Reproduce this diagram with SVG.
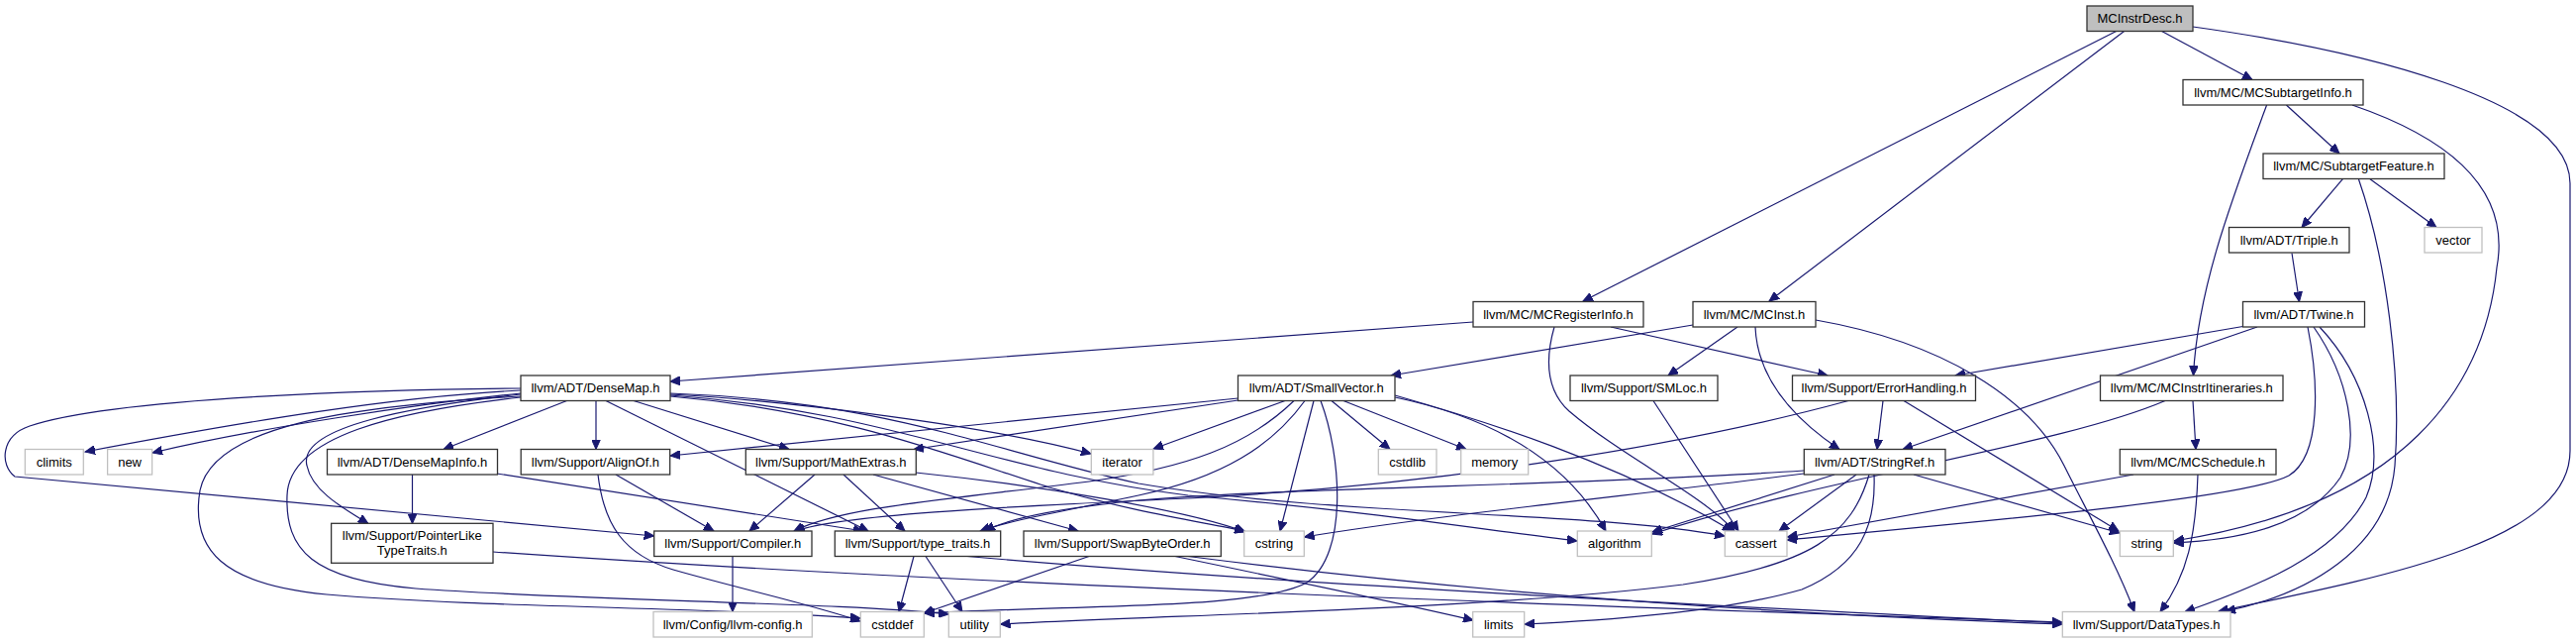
<svg xmlns="http://www.w3.org/2000/svg" width="2602" height="649" viewBox="0 0 2602 649">
<style>
.n rect{fill:#fff;stroke:#333;stroke-width:1.3}
.g rect{fill:#fff;stroke:#c0c0c0;stroke-width:1.3}
.r rect{fill:#bfbfbf;stroke:#333;stroke-width:1.3}
text{font-family:"Liberation Sans",Arial,sans-serif;font-size:13px;text-anchor:middle;fill:#000}
#edges path{fill:none;stroke:#191970;stroke-width:1.2;marker-end:url(#a)}
</style>
<defs>
<marker id="a" markerWidth="11" markerHeight="9" refX="10" refY="4.5" orient="auto" markerUnits="userSpaceOnUse">
<path d="M0,0 L10,4.5 L0,9 z" fill="#191970" stroke="#191970" stroke-width="1"/>
</marker>
</defs>
<rect width="2602" height="649" fill="#fff"/>
<g id="edges">
<path d="M2137.6,31.5 L1599,304"/>
<path d="M2145.6,31.5 L1787,304"/>
<path d="M2183.6,31.5 L2275,80.5"/>
<path d="M2215,27 C2380,50 2596,100 2596,185 L2596,455 C2596,545 2420,580 2241,617"/>
<path d="M2309.4,106 L2363,155"/>
<path d="M2289.6,106 C2255,200 2220,290 2215.5,379"/>
<path d="M2376,106 C2490,145 2535,200 2522,270 C2510,390 2430,510 2196,546"/>
<path d="M2366.4,180.7 L2325,229.5"/>
<path d="M2394,180.7 L2461,229.5"/>
<path d="M2382.5,181 C2410,260 2426,380 2419,470 C2412,555 2330,600 2248,617"/>
<path d="M2315,255.5 L2322.5,304.5"/>
<path d="M2265.5,329.5 L1975,379"/>
<path d="M2280,330 L1922,453.5"/>
<path d="M2331,330 C2342,385 2345,460 2312,480 C2270,502 2050,522 1805,545"/>
<path d="M2337,330 C2372,380 2385,445 2364,482 C2330,532 2260,545 2195.5,548"/>
<path d="M2343,330 C2390,380 2410,455 2390,502 C2360,560 2280,592 2207,617.5"/>
<path d="M1488,325 L677,385"/>
<path d="M1627,330 L1846,379"/>
<path d="M1570,330 C1560,365 1563,395 1585,415 C1640,462 1718,498 1752,536"/>
<path d="M1710,328 L1405,379"/>
<path d="M1755,330 L1685,379"/>
<path d="M1773,330 C1775,380 1808,420 1858,453.5"/>
<path d="M1834,323 C1960,345 2050,400 2085,470 C2110,520 2138,570 2156,617.5"/>
<path d="M572.5,404.5 L448,453.5"/>
<path d="M602,404.5 L602,453.5"/>
<path d="M526,394 C400,400 250,425 86,456"/>
<path d="M526,397 C420,408 260,432 154,457"/>
<path d="M526,392 C400,393 120,400 30,430 C0,440 0,470 15,481 L660.7,541"/>
<path d="M526,398 C420,410 300,430 310,470 C315,495 345,512 372,528.5"/>
<path d="M526,400 C350,410 215,430 202,495 C192,555 225,590 330,600 C500,614 700,612 869,624"/>
<path d="M526,401 C400,415 292,440 290,500 C288,555 315,585 420,594 C600,607 850,608 958,620"/>
<path d="M612,404.5 L877,536"/>
<path d="M640,404.5 L797,453.5"/>
<path d="M677,398 C800,405 1000,430 1102,458"/>
<path d="M677,400 C850,415 960,460 1060,492 C1150,518 1210,526 1257,536"/>
<path d="M677,399 C900,415 1000,475 1200,500 C1400,518 1500,535 1593,546"/>
<path d="M677,397 C900,405 1000,455 1150,488 C1350,522 1600,515 1742,541"/>
<path d="M416.5,479 L416.5,528.5"/>
<path d="M502,478 L872,536"/>
<path d="M622,479 L721,536"/>
<path d="M604,479 C610,530 630,560 680,575 C750,595 820,610 869,627"/>
<path d="M498,557 C900,585 1400,605 2083,628"/>
<path d="M823,479 L757,536"/>
<path d="M852,479 L914,536"/>
<path d="M882,479 L1089,536"/>
<path d="M925,477 C1050,490 1200,515 1258,537"/>
<path d="M923,561.5 L908,617.5"/>
<path d="M935,561.5 L972,617.5"/>
<path d="M977,561.5 C1300,590 1800,615 2083,629"/>
<path d="M1100,561.5 L933,619"/>
<path d="M1187,561.5 C1300,585 1420,610 1488,626"/>
<path d="M1200,561.5 C1500,600 1800,620 2083,630"/>
<path d="M740,561.5 L740,617.5"/>
<path d="M1250.5,402 L677,460"/>
<path d="M1250.5,404 L923,453.5"/>
<path d="M1298,404.5 L1165,453"/>
<path d="M1307,404.5 C1260,450 1200,472 1100,486 C950,505 850,512 802,536"/>
<path d="M1318,404.5 C1285,450 1235,482 1150,500 C1080,515 1020,525 990,536"/>
<path d="M1327,404.5 L1293,536"/>
<path d="M1334,404.5 C1355,460 1362,560 1320,588 C1270,615 1100,610 934,619"/>
<path d="M1345,404.5 L1404,453.5"/>
<path d="M1357,404.5 L1481,453.5"/>
<path d="M1409,401 C1500,420 1580,460 1622,536"/>
<path d="M1409,399 C1500,425 1630,465 1750,536"/>
<path d="M1670,404.5 L1756,536"/>
<path d="M1867,404.5 C1700,450 1450,490 1200,503 C1000,512 850,520 803,536"/>
<path d="M1902,404.5 L1896,453.5"/>
<path d="M1923,404.5 L2140,536"/>
<path d="M1822,475 C1600,490 1300,492 1150,505 C1080,512 1020,522 995,536"/>
<path d="M1822,478 C1650,500 1450,520 1317.5,542"/>
<path d="M1853,479 L1669,537"/>
<path d="M1875,479 L1797,536"/>
<path d="M1888,479 C1870,540 1830,570 1700,590 C1500,615 1200,620 1010.5,630"/>
<path d="M1893,479 C1895,530 1880,570 1820,595 C1750,615 1650,625 1540,630"/>
<path d="M1933,479 L2141,538"/>
<path d="M2215,404.5 L2218,453.5"/>
<path d="M2187,404.5 C2080,450 1850,480 1669,539"/>
<path d="M2220,479 C2218,540 2210,580 2182,617.5"/>
<path d="M2155,479 L1805.5,542"/>
</g>
<g id="MCInstrDesc" class="r"><rect x="2108" y="6" width="107" height="25.5"/><text x="2161.5" y="23.25">MCInstrDesc.h</text></g>
<g id="MCSubtargetInfo" class="n"><rect x="2205" y="80.5" width="182" height="25.5"/><text x="2296" y="97.75">llvm/MC/MCSubtargetInfo.h</text></g>
<g id="SubtargetFeature" class="n"><rect x="2286" y="155" width="183" height="25.5"/><text x="2377.5" y="172.25">llvm/MC/SubtargetFeature.h</text></g>
<g id="Triple" class="n"><rect x="2251.5" y="229.5" width="121.5" height="25.5"/><text x="2312.25" y="246.75">llvm/ADT/Triple.h</text></g>
<g id="vector" class="g"><rect x="2449" y="229.5" width="58" height="25.5"/><text x="2478" y="246.75">vector</text></g>
<g id="Twine" class="n"><rect x="2265.5" y="304.5" width="123" height="25.5"/><text x="2327" y="321.75">llvm/ADT/Twine.h</text></g>
<g id="MCRegisterInfo" class="n"><rect x="1488" y="304.5" width="172" height="25.5"/><text x="1574" y="321.75">llvm/MC/MCRegisterInfo.h</text></g>
<g id="MCInst" class="n"><rect x="1710" y="304.5" width="124" height="25.5"/><text x="1772" y="321.75">llvm/MC/MCInst.h</text></g>
<g id="DenseMap" class="n"><rect x="526" y="379" width="151" height="25.5"/><text x="601.5" y="396.25">llvm/ADT/DenseMap.h</text></g>
<g id="SmallVector" class="n"><rect x="1250.5" y="379" width="158.5" height="25.5"/><text x="1329.75" y="396.25">llvm/ADT/SmallVector.h</text></g>
<g id="SMLoc" class="n"><rect x="1586" y="379" width="149" height="25.5"/><text x="1660.5" y="396.25">llvm/Support/SMLoc.h</text></g>
<g id="ErrorHandling" class="n"><rect x="1810.5" y="379" width="185" height="25.5"/><text x="1903" y="396.25">llvm/Support/ErrorHandling.h</text></g>
<g id="MCInstrItineraries" class="n"><rect x="2121.5" y="379" width="184.5" height="25.5"/><text x="2213.75" y="396.25">llvm/MC/MCInstrItineraries.h</text></g>
<g id="climits" class="g"><rect x="25.3" y="453.5" width="59" height="25.5"/><text x="54.8" y="470.75">climits</text></g>
<g id="new" class="g"><rect x="108.6" y="453.5" width="45" height="25.5"/><text x="131.1" y="470.75">new</text></g>
<g id="DenseMapInfo" class="n"><rect x="330.5" y="453.5" width="172" height="25.5"/><text x="416.5" y="470.75">llvm/ADT/DenseMapInfo.h</text></g>
<g id="AlignOf" class="n"><rect x="526.2" y="453.5" width="150.5" height="25.5"/><text x="601.45" y="470.75">llvm/Support/AlignOf.h</text></g>
<g id="MathExtras" class="n"><rect x="753.3" y="453.5" width="172" height="25.5"/><text x="839.3" y="470.75">llvm/Support/MathExtras.h</text></g>
<g id="iterator" class="g"><rect x="1102.3" y="453.5" width="62.6" height="25.5"/><text x="1133.6" y="470.75">iterator</text></g>
<g id="cstdlib" class="g"><rect x="1392.3" y="453.5" width="58.7" height="25.5"/><text x="1421.65" y="470.75">cstdlib</text></g>
<g id="memory" class="g"><rect x="1475.7" y="453.5" width="68" height="25.5"/><text x="1509.7" y="470.75">memory</text></g>
<g id="StringRef" class="n"><rect x="1822.3" y="453.5" width="142.7" height="25.5"/><text x="1893.65" y="470.75">llvm/ADT/StringRef.h</text></g>
<g id="MCSchedule" class="n"><rect x="2141.3" y="453.5" width="157.7" height="25.5"/><text x="2220.15" y="470.75">llvm/MC/MCSchedule.h</text></g>
<g id="PointerLikeTypeTraits" class="n"><rect x="334.6" y="528.3" width="163.4" height="40"/><text x="416.3" y="545">llvm/Support/PointerLike</text><text x="416.3" y="559.5">TypeTraits.h</text></g>
<g id="Compiler" class="n"><rect x="660.7" y="536" width="159.3" height="25.5"/><text x="740.35" y="553.25">llvm/Support/Compiler.h</text></g>
<g id="type_traits" class="n"><rect x="843.3" y="536" width="167.4" height="25.5"/><text x="927" y="553.25">llvm/Support/type_traits.h</text></g>
<g id="SwapByteOrder" class="n"><rect x="1034" y="536" width="199.3" height="25.5"/><text x="1133.65" y="553.25">llvm/Support/SwapByteOrder.h</text></g>
<g id="cstring" class="g"><rect x="1256.7" y="536" width="60.6" height="25.5"/><text x="1287" y="553.25">cstring</text></g>
<g id="algorithm" class="g"><rect x="1593.3" y="536" width="75" height="25.5"/><text x="1630.8" y="553.25">algorithm</text></g>
<g id="cassert" class="g"><rect x="1742.3" y="536" width="62.7" height="25.5"/><text x="1773.65" y="553.25">cassert</text></g>
<g id="string" class="g"><rect x="2141.3" y="536" width="54" height="25.5"/><text x="2168.3" y="553.25">string</text></g>
<g id="llvm-config" class="g"><rect x="660" y="617.5" width="160.3" height="25.5"/><text x="740.15" y="634.75">llvm/Config/llvm-config.h</text></g>
<g id="cstddef" class="g"><rect x="869.3" y="617.5" width="64" height="25.5"/><text x="901.3" y="634.75">cstddef</text></g>
<g id="utility" class="g"><rect x="958.3" y="617.5" width="52" height="25.5"/><text x="984.3" y="634.75">utility</text></g>
<g id="limits" class="g"><rect x="1487.7" y="617.5" width="52" height="25.5"/><text x="1513.7" y="634.75">limits</text></g>
<g id="DataTypes" class="g"><rect x="2083.3" y="617.5" width="169.7" height="25.5"/><text x="2168.15" y="634.75">llvm/Support/DataTypes.h</text></g>
</svg>
